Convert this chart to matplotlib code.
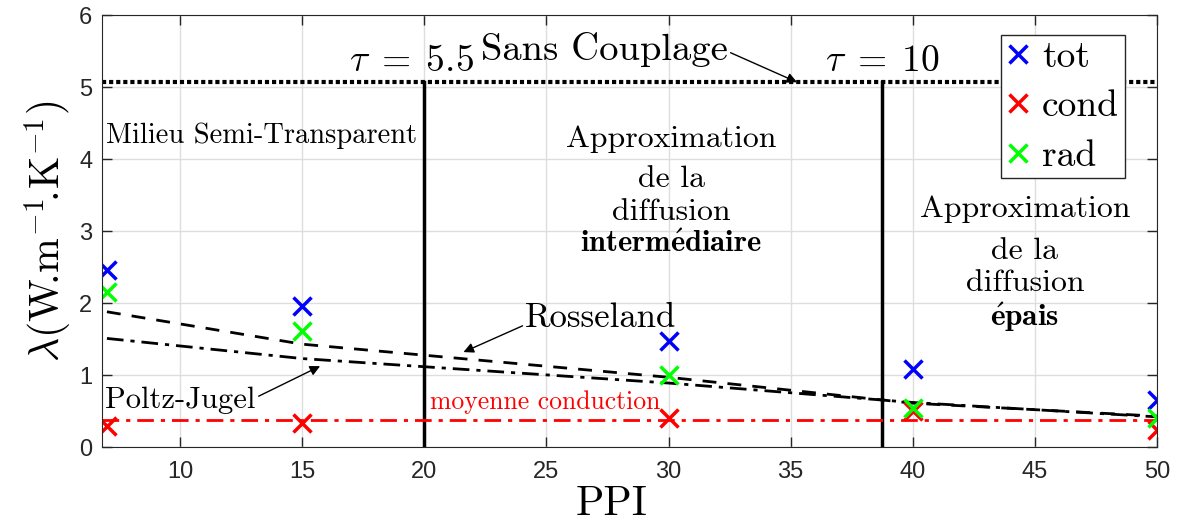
import matplotlib
matplotlib.use("Agg")
import matplotlib.pyplot as plt

plt.rcParams['mathtext.fontset'] = 'cm'

# Data
ppi = [7, 15, 30, 40, 50]
lam_tot = [2.46, 1.96, 1.47, 1.08, 0.65]
lam_cond = [0.29, 0.33, 0.40, 0.50, 0.24]
lam_rad = [2.15, 1.61, 1.00, 0.54, 0.40]
rosseland = [1.88, 1.43, 0.97, 0.61, 0.43]
poltz_jugel = [1.51, 1.23, 0.89, 0.62, 0.42]
moyenne_cond = 0.375
sans_couplage = 5.07
tau_bounds = [20, 38.75]
xlim = (6.8, 50)
ylim = (0, 6)
xticks = [10, 15, 20, 25, 30, 35, 40, 45, 50]
yticks = [0, 1, 2, 3, 4, 5, 6]

CM = ['cmr10', 'DejaVu Serif']

fig = plt.figure(figsize=(11.77, 5.26), dpi=100)
ax = fig.add_axes([0.0867, 0.150, 0.8963, 0.821])

ax.set_xlim(*xlim)
ax.set_ylim(*ylim)
ax.set_xticks(xticks)
ax.set_yticks(yticks)
ax.grid(True, color='#dedede', linewidth=1)
ax.set_axisbelow(True)
ax.tick_params(direction='in', top=True, right=True, length=7, width=1,
               labelsize=17, colors='#262626')
ax.tick_params(axis='x', pad=10)
ax.tick_params(axis='y', pad=7)
for lab in ax.get_xticklabels() + ax.get_yticklabels():
    lab.set_family('Liberation Sans')
for s in ax.spines.values():
    s.set_color('#262626')

# lines
ax.axhline(sans_couplage, color='black', linestyle=(0, (1, 0.7)), linewidth=3)
for xb in tau_bounds:
    ax.plot([xb, xb], [0, sans_couplage], color='black', linewidth=2.5)
ax.plot(ppi, rosseland, color='black', linestyle=(0, (5, 4)), linewidth=2)
ax.plot(ppi, poltz_jugel, color='black', linestyle=(0, (6, 2.5, 1.5, 2.5)), linewidth=2)
ax.axhline(moyenne_cond, color='red', linestyle=(0, (6, 2.5, 1.5, 2.5)), linewidth=2)

# markers
ax.plot(ppi, lam_tot, 'x', color=(0, 0, 1), markersize=13, mew=2.5, label='tot', linestyle='none')
ax.plot(ppi, lam_cond, 'x', color=(1, 0, 0), markersize=13, mew=2.5, label='cond', linestyle='none')
ax.plot(ppi, lam_rad, 'x', color=(0, 1, 0), markersize=13, mew=2.5, label='rad', linestyle='none')

leg = ax.legend(loc='upper left', bbox_to_anchor=(0.852, 0.954), prop={'family': CM, 'size': 27},
                frameon=True, fancybox=False, edgecolor='#262626', framealpha=1,
                handlelength=0.6, handletextpad=0.35, borderpad=0.15, labelspacing=0.43,
                borderaxespad=0.0)
leg.get_frame().set_linewidth(1)

# annotations
ax.text(19.47, 5.23, r'$\tau\;=\;5.5$', fontsize=27, ha='center', va='baseline')
ax.text(38.76, 5.23, r'$\tau\;=\;10$', fontsize=27, ha='center', va='baseline')
ax.annotate('Sans Couplage', xy=(35.26, sans_couplage), xytext=(27.37, 5.375),
            fontsize=27.8, family=CM, ha='center', va='baseline',
            arrowprops=dict(arrowstyle='-|>', color='black', lw=1, mutation_scale=15,
                            shrinkA=0, shrinkB=0, relpos=(1, 0.45)))
ax.text(6.97, 4.22, 'Milieu Semi-Transparent', fontsize=20.5, family=CM, ha='left', va='baseline')

mid_lines = ['Approximation', 'de la', 'diffusion']
mid_y = [4.167, 3.611, 3.153]
for t, yy in zip(mid_lines, mid_y):
    ax.text(30.10, yy, t, fontsize=22.9, family=CM, ha='center', va='baseline')
ax.text(30.10, 2.708, r'$\mathbf{interm\acute{e}diaire}$', fontsize=22, ha='center', va='baseline')

right_y = [3.194, 2.611, 2.167]
for t, yy in zip(mid_lines, right_y):
    ax.text(44.59, yy, t, fontsize=22.9, family=CM, ha='center', va='baseline')
ax.text(44.59, 1.681, r'$\mathbf{\acute{e}pais}$', fontsize=22.5, ha='center', va='baseline')

ax.annotate('Rosseland', xy=(21.6, 1.32), xytext=(27.23, 1.79),
            fontsize=25, family=CM, ha='center', va='center',
            arrowprops=dict(arrowstyle='-|>', color='black', lw=1, mutation_scale=15,
                            shrinkA=0, shrinkB=0, relpos=(0, 0.3)))
ax.annotate('Poltz-Jugel', xy=(15.73, 1.125), xytext=(10.02, 0.65),
            fontsize=22, family=CM, ha='center', va='center',
            arrowprops=dict(arrowstyle='-|>', color='black', lw=1, mutation_scale=15,
                            shrinkA=0, shrinkB=0, relpos=(1, 0.6)))
ax.text(20.23, 0.525, 'moyenne conduction', fontsize=18.5, family=CM, color='red',
        ha='left', va='baseline')

ax.set_xlabel('PPI', family=CM, fontsize=30)
ax.xaxis.label.set_va('baseline')
ax.xaxis.set_label_coords(0.483, -0.158)
ax.set_ylabel(r'$\lambda(\mathrm{W}\!.\!\mathrm{m}^{-1}\!.\!\mathrm{K}^{-1})$', fontsize=30, labelpad=4)

fig.savefig('out.png', dpi=100)
